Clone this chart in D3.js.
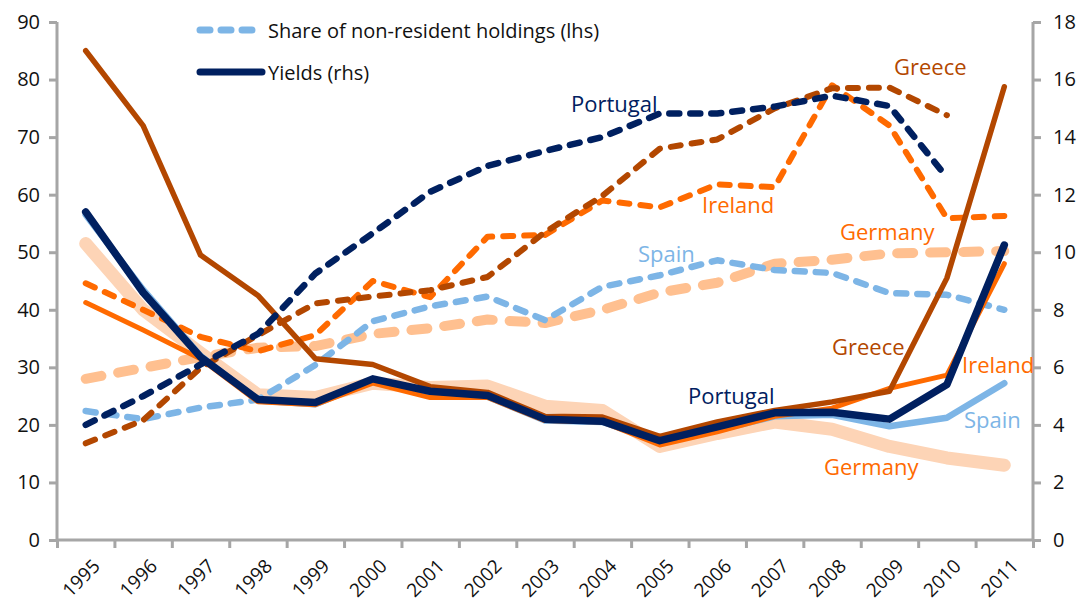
<!DOCTYPE html>
<html>
<head>
<meta charset="utf-8">
<script src="https://cdn.jsdelivr.net/npm/d3@7"></script>
<style>
  body { margin: 0; background: #fff; }
  text { font-family: "Open Sans", "Noto Sans", sans-serif; }
</style>
</head>
<body>
<div id="chart"></div>
<script>
// Data
const years = ["1995", "1996", "1997", "1998", "1999", "2000", "2001", "2002", "2003",
  "2004", "2005", "2006", "2007", "2008", "2009", "2010", "2011"];
const leftTicks = [0, 10, 20, 30, 40, 50, 60, 70, 80, 90];
const rightTicks = [0, 2, 4, 6, 8, 10, 12, 14, 16, 18];

// Share of non-resident holdings (lhs, %)
const nonResPortugal = [20, 25, 30.5, 35.8, 46.3, 53.3, 60.5, 65, 67.6, 70, 74.1, 74.1, 75.3, 77.2, 75.4, 63, null];
const nonResGreece = [16.8, 20.8, 29.9, 35.6, 41.1, 42.3, 43.4, 45.7, 53.5, 59.8, 68, 69.6, 75, 78.5, 78.6, 73.8, null];
const nonResIreland = [44.6, 40, 35.3, 32.8, 35.6, 45, 42.2, 52.7, 53, 59, 57.8, 61.8, 61.3, 79, 72, 55.9, 56.3];
const nonResSpain = [22.4, 21, 23, 24.4, 30.4, 38, 40.6, 42.3, 38.2, 44, 46, 48.6, 46.9, 46.4, 42.9, 42.6, 40];
const nonResGermany = [28, 29.9, 31.8, 33.4, 33.7, 35.8, 36.8, 38.3, 37.7, 40, 43, 44.7, 48, 48.7, 49.8, 50, 50.2];

// Yields (rhs, %)
const yieldGreece = [17, 14.4, 9.9, 8.5, 6.3, 6.1, 5.33, 5.13, 4.3, 4.27, 3.6, 4.1, 4.5, 4.8, 5.17, 9.1, 15.75];
const yieldPortugal = [11.4, 8.6, 6.36, 4.88, 4.78, 5.6, 5.17, 5.02, 4.2, 4.13, 3.45, 3.93, 4.42, 4.44, 4.2, 5.4, 10.25];
const yieldIreland = [8.25, 7.3, 6.3, 4.8, 4.7, 5.45, 4.95, 4.95, 4.15, 4.1, 3.3, 3.76, 4.3, 4.58, 5.27, 5.73, 9.6];
const yieldSpain = [11.3, 8.7, 6.4, 4.85, 4.72, 5.53, 5.1, 4.98, 4.15, 4.1, 3.42, 3.82, 4.3, 4.35, 3.95, 4.25, 5.45];
const yieldGermany = [10.3, 8.0, 6.5, 5.05, 4.95, 5.45, 5.3, 5.35, 4.65, 4.5, 3.25, 3.7, 4.1, 3.85, 3.25, 2.85, 2.6];

// colours
const navy = "#002060";
const brown = "#B34700";
const orange = "#FF6A00";
const lightBlue = "#7DB5E6";
const peach = "#FFC090";
const palePeach = "#FDD4B6";

const width = 1086, height = 606;
const margin = { top: 22, right: 53, bottom: 66, left: 57 };

const svg = d3.select("#chart")
  .append("svg")
  .attr("width", width)
  .attr("height", height);

// scales
const xScale = d3.scaleBand().domain(years).range([margin.left, width - margin.right]);
const yLeft = d3.scaleLinear().domain([0, 90]).range([height - margin.bottom, margin.top]);
const yRight = d3.scaleLinear().domain([0, 18]).range([height - margin.bottom, margin.top]);
const xc = function (d) { return xScale(d) + xScale.bandwidth() / 2; };

const axisColor = "#A6A6A6";

// left axis
const leftAxis = svg.append("g")
  .attr("transform", "translate(" + margin.left + ",0)")
  .call(d3.axisLeft(yLeft).tickValues(leftTicks).tickSize(8).tickPadding(9));
// right axis
const rightAxis = svg.append("g")
  .attr("transform", "translate(" + (width - margin.right) + ",0)")
  .call(d3.axisRight(yRight).tickValues(rightTicks).tickSize(8).tickPadding(12));
// bottom axis, ticks on category boundaries
const xBoundaries = d3.scaleLinear().domain([0, years.length]).range(xScale.range());
const bottomAxis = svg.append("g")
  .attr("transform", "translate(0," + (height - margin.bottom) + ")")
  .call(d3.axisBottom(xBoundaries).tickValues(d3.range(years.length + 1)).tickSize(8).tickFormat(""));

[leftAxis, rightAxis, bottomAxis].forEach(function (g) {
  g.select(".domain").attr("stroke", axisColor).attr("stroke-width", 3);
  g.selectAll(".tick line").attr("stroke", axisColor).attr("stroke-width", 3);
  g.selectAll("text").attr("fill", "#111").style("font-size", "20px")
    .style("font-family", "'Open Sans', sans-serif");
});
leftAxis.select(".domain").attr("d", "M0," + yLeft(0) + "V" + yLeft(90));
rightAxis.select(".domain").attr("d", "M0," + yRight(0) + "V" + yRight(18));
bottomAxis.select(".domain").attr("d", "M" + margin.left + ",0H" + (width - margin.right));

// year labels, rotated
svg.append("g")
  .selectAll("text")
  .data(years)
  .join("text")
  .attr("transform", function (d) { return "translate(" + (xc(d) + 6) + "," + (height - margin.bottom + 18) + ") rotate(-45)"; })
  .attr("text-anchor", "end")
  .attr("dy", "0.7em")
  .attr("fill", "#111")
  .style("font-size", "19px")
  .text(function (d) { return d; });

// line generators
function lineFor(scale) {
  return d3.line()
    .defined(function (d) { return d != null; })
    .x(function (d, i) { return xc(years[i]); })
    .y(function (d) { return scale(d); });
}
const lineL = lineFor(yLeft);
const lineR = lineFor(yRight);

// draw order: bottom to top
const series = [
  { values: yieldGermany, line: lineR, color: palePeach, w: 13, dash: null },
  { values: nonResGermany, line: lineL, color: peach, w: 10, dash: "16,17" },
  { values: nonResSpain, line: lineL, color: lightBlue, w: 6.5, dash: "10,11" },
  { values: yieldSpain, line: lineR, color: lightBlue, w: 6.5, dash: null },
  { values: nonResIreland, line: lineL, color: orange, w: 6, dash: "10,11" },
  { values: yieldIreland, line: lineR, color: orange, w: 5, dash: null },
  { values: nonResGreece, line: lineL, color: brown, w: 6, dash: "10,11" },
  { values: yieldGreece, line: lineR, color: brown, w: 5.5, dash: null },
  { values: nonResPortugal, line: lineL, color: navy, w: 6.5, dash: "10,11" },
  { values: yieldPortugal, line: lineR, color: navy, w: 7.5, dash: null }
];

svg.append("g")
  .selectAll("path")
  .data(series)
  .join("path")
  .attr("fill", "none")
  .attr("stroke", function (d) { return d.color; })
  .attr("stroke-width", function (d) { return d.w; })
  .attr("stroke-dasharray", function (d) { return d.dash; })
  .attr("stroke-linecap", "round")
  .attr("stroke-linejoin", "round")
  .attr("d", function (d) { return d.line(d.values); });

// country annotations (pixel layout)
const annotations = [
  { text: "Portugal", x: 571, y: 112, color: navy },
  { text: "Greece", x: 894, y: 75, color: brown },
  { text: "Ireland", x: 702, y: 213, color: orange },
  { text: "Germany", x: 840, y: 240, color: orange },
  { text: "Spain", x: 638, y: 262, color: lightBlue },
  { text: "Greece", x: 832, y: 355, color: brown },
  { text: "Ireland", x: 962, y: 373, color: orange },
  { text: "Portugal", x: 688, y: 404, color: navy },
  { text: "Spain", x: 964, y: 428, color: lightBlue },
  { text: "Germany", x: 824, y: 475, color: orange }
];
svg.append("g")
  .selectAll("text")
  .data(annotations)
  .join("text")
  .attr("x", function (d) { return d.x; })
  .attr("y", function (d) { return d.y; })
  .attr("fill", function (d) { return d.color; })
  .style("font-size", "22px")
  .text(function (d) { return d.text; });

// legend
const legend = svg.append("g");
legend.append("line")
  .attr("x1", 200).attr("x2", 254).attr("y1", 30).attr("y2", 30)
  .attr("stroke", lightBlue).attr("stroke-width", 7)
  .attr("stroke-linecap", "round").attr("stroke-dasharray", "10,11");
legend.append("text")
  .attr("x", 268).attr("y", 38)
  .style("font-size", "20px").attr("fill", "#111")
  .text("Share of non-resident holdings (lhs)");
legend.append("line")
  .attr("x1", 200).attr("x2", 262).attr("y1", 72).attr("y2", 72)
  .attr("stroke", navy).attr("stroke-width", 7)
  .attr("stroke-linecap", "round");
legend.append("text")
  .attr("x", 268).attr("y", 80)
  .style("font-size", "20px").attr("fill", "#111")
  .text("Yields (rhs)");
</script>
</body>
</html>
